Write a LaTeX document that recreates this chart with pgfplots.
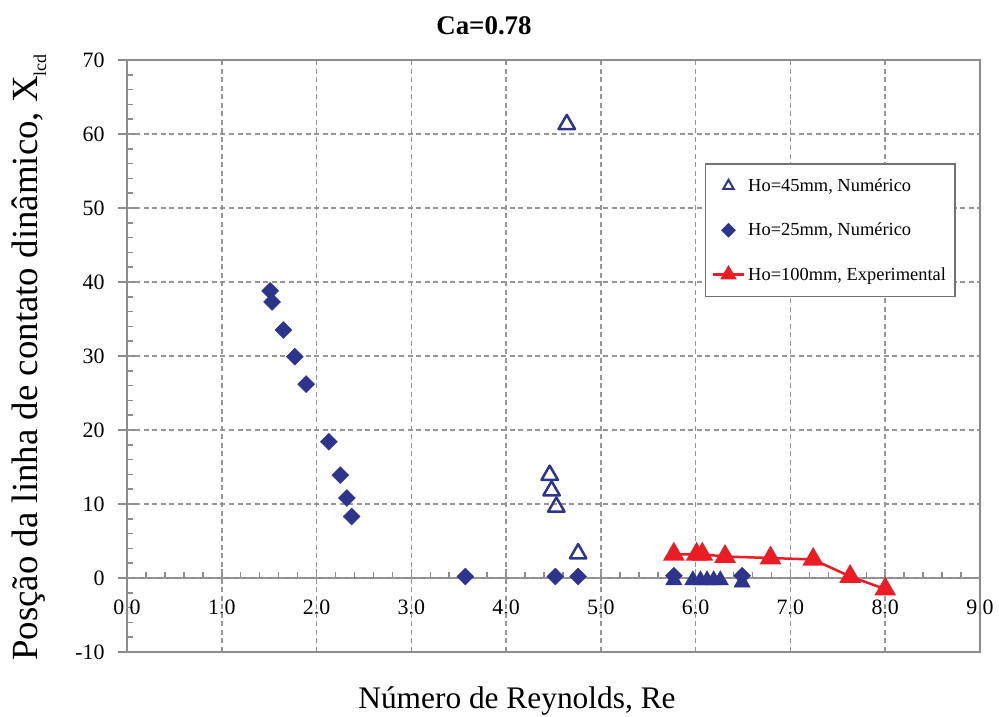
\documentclass[border=0pt]{standalone}
\usepackage{pgfplots}
\pgfplotsset{compat=1.18}
\usepackage{fontspec}
\setmainfont{Liberation Serif}
\setsansfont{Liberation Serif}
\definecolor{navy}{RGB}{44,52,140}
\definecolor{exred}{RGB}{236,28,36}
\definecolor{axgray}{RGB}{140,140,140}
\definecolor{gridgray}{RGB}{150,150,150}
\begin{document}
\begin{tikzpicture}
\pgfplotsset{
  common/.style={
    scale only axis, width=853bp, height=592bp,
    xmin=0, xmax=9, ymin=-10, ymax=70,
    /pgf/number format/assume math mode=true,
    tick style={axgray, line width=1.5bp},
  }
}
% axis B: x axis line through y=0, minor ticks
\begin{axis}[common,
  axis x line=middle, axis y line=left,
  x axis line style={-, axgray, line width=2bp},
  y axis line style={draw=none},
  xtick={0,...,9}, xticklabels={}, minor x tick num=4,
  ytick={-10,0,...,70}, yticklabels={}, minor y tick num=4,
  tick align=inside, major tick length=9bp, minor tick length=6bp,
]
\addplot[draw=none, forget plot] coordinates {(1,1)};
\end{axis}
% axis C: x tick labels below the y=0 line
\begin{axis}[
  scale only axis, width=853bp, height=518bp, at={(0bp,74bp)},
  xmin=0, xmax=9, ymin=0, ymax=70,
  axis x line=bottom, axis y line=none,
  x axis line style={draw=none},
  xtick={0,...,9}, major tick length=0bp, minor tick length=0bp,
  /pgf/number format/assume math mode=true,
  xticklabel style={font=\fontsize{22}{22}\selectfont, yshift=-18bp,
    /pgf/number format/.cd, fixed, fixed zerofill, precision=1},
]
\addplot[draw=none, forget plot] coordinates {(1,1)};
\end{axis}
% axis A: frame, grid, data
\begin{axis}[common,
  axis line style={axgray, line width=2bp},
  xtick={0,...,9}, xticklabels={}, xtick style={draw=none},
  ytick={-10,0,...,70}, ytick pos=left, ytick align=outside, major tick length=9bp,
  yticklabel style={font=\fontsize{22}{22}\selectfont, xshift=-10bp},
  grid=major, major grid style={gridgray, line width=1.6bp, dash pattern=on 5bp off 3.5bp},
  legend cell align=left,
  legend image code/.code={\draw[mark repeat=2,mark phase=2,#1] plot coordinates {(0bp,0bp) (15.5bp,0bp) (31bp,0bp)};},
  legend style={at={(0.6776,0.826)}, anchor=north west, draw=black!55, line width=1.5bp,
    font=\fontsize{18.5}{18.5}\selectfont, row sep=24bp, inner xsep=6bp, inner ysep=12bp,
    nodes={inner sep=3bp}},
]
\coordinate (sw) at (rel axis cs:0,0);
% Ho=45mm numerico (open triangles)
\addplot[forget plot, only marks, mark=triangle, mark size=9.5bp, navy, line width=2.5bp, line join=round]
  coordinates {(4.64,61.3) (4.46,13.9) (4.48,11.8) (4.53,9.6) (4.76,3.3)};
% Ho=25mm numerico (diamonds)
\addplot[forget plot, only marks, mark=square*, mark size=6bp, navy, mark options={rotate=45}]
  coordinates {(1.51,38.8) (1.53,37.3) (1.65,33.5) (1.77,29.9) (1.89,26.2) (2.13,18.4) (2.25,13.9)
    (2.32,10.8) (2.37,8.3) (3.57,0.2) (4.52,0.2) (4.76,0.2) (5.77,0.3) (6.49,0.3)};
% filled navy triangles near zero
\addplot[forget plot, only marks, mark=triangle*, mark size=9.5bp, navy]
  coordinates {(5.77,-0.3) (5.97,-0.3) (6.05,-0.3) (6.12,-0.3) (6.19,-0.3) (6.26,-0.3) (6.49,-0.6)};
% Ho=100mm experimental
\addplot[forget plot, exred, line width=2.5bp, mark=triangle*, mark size=10bp]
  coordinates {(5.77,3.2) (6.01,3.2) (6.07,3.2) (6.31,2.9) (6.79,2.7) (7.24,2.5) (7.63,0.2) (8.0,-1.5)};
\addlegendimage{only marks, mark=triangle, mark size=6bp, navy, line width=2bp}
\addlegendentry{Ho=45mm, Numérico}
\addlegendimage{only marks, mark=square*, mark size=4.5bp, navy, mark options={rotate=45}}
\addlegendentry{Ho=25mm, Numérico}
\addlegendimage{exred, line width=2.5bp, mark=triangle*, mark size=7bp}
\addlegendentry{Ho=100mm, Experimental}
\end{axis}
\node[anchor=base, font=\bfseries\fontsize{27}{27}\selectfont] at ([shift={(357bp,617bp)}]sw) {Ca=0.78};
\node[anchor=base, font=\fontsize{31.5}{31.5}\selectfont] at ([shift={(390bp,-56bp)}]sw) {Número de Reynolds, Re};
\node[anchor=base, rotate=90, font=\fontsize{37}{37}\selectfont] at ([shift={(-89bp,294.5bp)}]sw) {Posção da linha de contato dinâmico, X\raisebox{-0.22em}{\fontsize{18}{18}\selectfont lcd}};
\pgfresetboundingbox
\path[use as bounding box] ([shift={(-127bp,-65bp)}]sw) rectangle ([shift={(872bp,652bp)}]sw);
\end{tikzpicture}
\end{document}
